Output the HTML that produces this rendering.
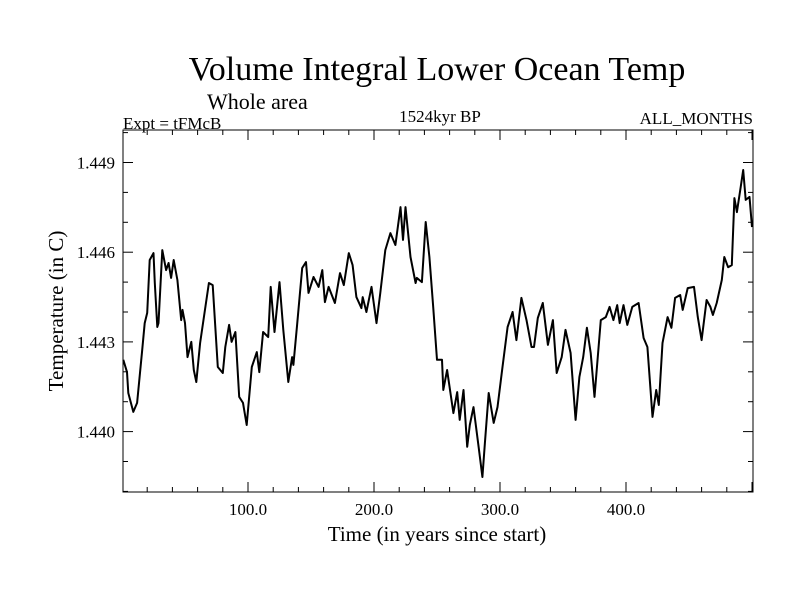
<!DOCTYPE html>
<html><head><meta charset="utf-8"><style>
body{margin:0;background:#fff;}
svg text{font-family:"Liberation Serif",serif;fill:#000;}
</style></head><body>
<svg id="chart" width="800" height="600" xmlns="http://www.w3.org/2000/svg">
<text x="437" y="80" font-size="34" text-anchor="middle">Volume Integral Lower Ocean Temp</text>
<text x="207" y="109" font-size="22">Whole area</text>
<text x="123" y="129" font-size="17">Expt = tFMcB</text>
<text x="440" y="122" font-size="17" text-anchor="middle">1524kyr BP</text>
<text x="753" y="124" font-size="17" text-anchor="end">ALL_MONTHS</text>
<text x="437" y="541" font-size="21" text-anchor="middle">Time (in years since start)</text>
<text transform="translate(63,311) rotate(-90)" font-size="21" text-anchor="middle">Temperature (in C)</text>
<g id="axes"></g>
<path id="line" fill="none" stroke="#000" stroke-width="2" stroke-linejoin="round"/>
<rect x="123" y="130" width="630" height="362" fill="none" stroke="#000" stroke-width="1"/>
</svg>
<script>
const years=[1,4,5,9,12,16,18,20,22,25,26,28,29,32,35,37,39,41,44,47,48,50,52,55,57,59,62,67,69,72,76,80,82,85,87,90,93,96,99,103,107,109,112,116,118,121,125,128,132,135,136,139,143,146,148,152,156,159,161,164,169,173,176,180,183,186,190,191,194,198,202,205,209,213,217,221,223,225,229,233,234,238,241,244,247,250,254,255,258,263,266,268,271,274,276,279,283,286,288,291,295,298,302,306,310,313,317,321,325,327,330,334,338,342,345,349,352,356,360,363,366,369,372,375,380,384,387,390,393,395,398,401,405,410,414,417,421,424,426,429,433,436,439,443,445,449,454,457,460,464,467,469,472,476,478,481,484,486,488,491,493,495,498,500];
const temps=[1.44240,1.44199,1.44129,1.44066,1.44096,1.44273,1.44363,1.44397,1.44574,1.44597,1.44497,1.44350,1.44363,1.44607,1.44540,1.44564,1.44514,1.44574,1.44507,1.44373,1.44407,1.44363,1.44249,1.44300,1.44206,1.44166,1.44296,1.44440,1.44497,1.44490,1.44216,1.44196,1.44283,1.44357,1.44300,1.44333,1.44116,1.44096,1.44022,1.44216,1.44266,1.44199,1.44333,1.44316,1.44484,1.44333,1.44500,1.44340,1.44166,1.44249,1.44223,1.44357,1.44547,1.44567,1.44464,1.44517,1.44484,1.44540,1.44433,1.44484,1.44430,1.44530,1.44490,1.44597,1.44557,1.44450,1.44413,1.44450,1.44400,1.44484,1.44363,1.44464,1.44607,1.44664,1.44624,1.44751,1.44641,1.44751,1.44584,1.44497,1.44514,1.44500,1.44701,1.44584,1.44417,1.44240,1.44240,1.44139,1.44206,1.44062,1.44132,1.44039,1.44139,1.43949,1.44022,1.44082,1.43949,1.43848,1.43962,1.44129,1.44029,1.44082,1.44216,1.44350,1.44400,1.44306,1.44447,1.44373,1.44283,1.44283,1.44380,1.44430,1.44290,1.44373,1.44196,1.44249,1.44340,1.44263,1.44039,1.44183,1.44249,1.44347,1.44263,1.44116,1.44373,1.44383,1.44417,1.44373,1.44423,1.44363,1.44423,1.44357,1.44417,1.44430,1.44313,1.44283,1.44049,1.44139,1.44089,1.44296,1.44383,1.44347,1.44447,1.44457,1.44407,1.44480,1.44484,1.44383,1.44306,1.44440,1.44417,1.44390,1.44430,1.44507,1.44584,1.44550,1.44557,1.44781,1.44734,1.44818,1.44875,1.44775,1.44785,1.44684];
const xTickLabels=["100.0","200.0","300.0","400.0"];
const xTickValues=[100,200,300,400];
const yTickLabels=["1.440","1.443","1.446","1.449"];
const yTickValues=[1.440,1.443,1.446,1.449];
const X0=122,XS=1.26,Y0=162.5,YS=29900,YREF=1.449;
function sx(v){return X0+v*XS;}
function sy(v){return Y0+(YREF-v)*YS;}
const NS="http://www.w3.org/2000/svg";
const ax=document.getElementById('axes');
function ln(x1,y1,x2,y2,name){const l=document.createElementNS(NS,'line');
l.setAttribute('x1',x1);l.setAttribute('y1',y1);l.setAttribute('x2',x2);l.setAttribute('y2',y2);
l.setAttribute('stroke','#000');l.setAttribute('stroke-width','1');


ax.appendChild(l);}
function tx(x,y,s,anchor,name){const t=document.createElementNS(NS,'text');
t.setAttribute('x',x);t.setAttribute('y',y);t.setAttribute('font-size','17');t.setAttribute('text-anchor',anchor);t.textContent=s;


ax.appendChild(t);}
for(let v=20;v<=500;v+=20){const x=sx(v);const maj=v%100===0;const L=maj?10:5;
ln(x,492,x,492-L,'x-tick');ln(x,130,x,130+L,'x-tick');}
for(let k=1438;k<=1450;k++){const v=k/1000;const y=sy(v);if(y<130||y>492)continue;const maj=(k%3===0);const L=maj?10:5;
ln(123,y,123+L,y,'y-tick');ln(753,y,753-L,y,'y-tick');}
xTickValues.forEach((v,i)=>tx(sx(v),515,xTickLabels[i],'middle','x-tick-label'));
yTickValues.forEach((v,i)=>tx(115,sy(v)+6,yTickLabels[i],'end','y-tick-label'));
let d='';years.forEach((yr,i)=>{d+=(i?'L':'M')+sx(yr).toFixed(1)+' '+sy(temps[i]).toFixed(1);});
document.getElementById('line').setAttribute('d',d);
</script>
</body></html>
